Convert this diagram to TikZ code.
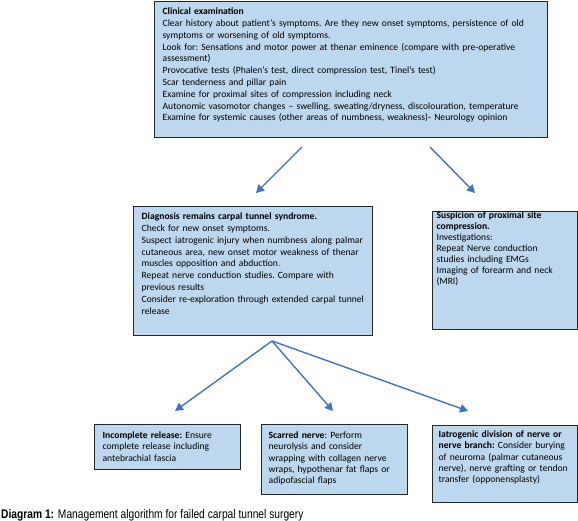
\documentclass[tikz,border=0pt]{standalone}
\usepackage{fontspec}
\setmainfont{Carlito}
\newfontfamily\capfont[FakeStretch=0.82]{Liberation Sans}
\usepackage{tikz}
\usetikzlibrary{arrows.meta}
\definecolor{boxfill}{HTML}{BDD7EE}
\definecolor{boxline}{HTML}{262626}
\definecolor{arrblue}{HTML}{4472C4}
\tikzset{
	box/.style={draw=boxline,fill=boxfill,line width=1.3pt,anchor=north west,align=left,inner ysep=0pt,font={\fontsize{9.6}{#1}\selectfont\frenchspacing\hyphenpenalty 10000 }},
	arr/.style={draw=arrblue,line width=1.4pt,-{Triangle[length=8pt,width=8.5pt]}}
}

\begin{document}
\begin{tikzpicture}[x=1pt,y=-1pt]
						\useasboundingbox (0,0) rectangle (578,521);

						\node [box=11.8,inner xsep=8pt,text width=377pt,text height=13pt,text depth=123pt] (clin) at (154,1) {\textbf{Clinical examination}\\
						Clear history about patient’s symptoms. Are they new onset symptoms, persistence of old\\
						symptoms or worsening of old symptoms.\\
						Look for: Sensations and motor power at thenar eminence (compare with pre-operative\\
						assessment)\\
						Provocative tests (Phalen’s test, direct compression test, Tinel’s test)\\
						Scar tenderness and pillar pain\\
						Examine for proximal sites of compression including neck\\
						Autonomic vasomotor changes – swelling, sweating/dryness, discolouration, temperature\\
						Examine for systemic causes (other areas of numbness, weakness)- Neurology opinion};

						\node [box=11.8,inner xsep=8pt,text width=223pt,text height=13pt,text depth=116pt] (diag) at (133,206) {\textbf{Diagnosis remains carpal tunnel syndrome.}\\
						Check for new onset symptoms.\\
						Suspect iatrogenic injury when numbness along palmar\\
						cutaneous area, new onset motor weakness of thenar\\
						muscles opposition and abduction\textcolor{red}{.}\\
						Repeat nerve conduction studies. Compare with\\
						previous results\\
						Consider re-exploration through extended carpal tunnel\\
						release};

						\node [box=10.9,inner xsep=4pt,text width=137pt,text height=7pt,text depth=111pt] (prox) at (432,211) {\textbf{Suspicion of proximal site}\\
						\textbf{compression.}\\
						Investigations:\\
						Repeat Nerve conduction\\
						studies including EMGs\\
						Imaging of forearm and neck\\
						(MRI)};

						\node [box=11.2,inner xsep=8pt,text width=130pt,text height=14pt,text depth=31pt] (inc) at (94,424) {\textbf{Incomplete release:} Ensure\\
						complete release including\\
						antebrachial fascia};

						\node [box=11.2,inner xsep=7pt,text width=132pt,text height=14pt,text depth=56pt] (scar) at (261,424) {\textbf{Scarred nerve}: Perform\\
						neurolysis and consider\\
						wrapping with collagen nerve\\
						wraps, hypothenar fat flaps or\\
						adipofascial flaps};

						\node [box=11.2,inner xsep=6pt,text width=133pt,text height=12pt,text depth=65pt] (iatr) at (432,425) {\textbf{Iatrogenic division of nerve or}\\
						\textbf{nerve branch:} Consider burying\\
						of neuroma (palmar cutaneous\\
						nerve), nerve grafting or tendon\\
						transfer (opponensplasty)};

						\node [anchor=base west,inner sep=0pt,font=\capfont\fontsize{12.5}{14}\selectfont] (cap) at (1,518) {\textbf{Diagram 1:} Management algorithm for failed carpal tunnel surgery};

						\coordinate (clinL) at (302,147);
						\coordinate (diagT) at (256,193);
						\coordinate (clinR) at (430,147);
						\coordinate (proxT) at (475,193);
						\coordinate (fan) at (272,341);
						\coordinate (incT) at (175,411);
						\coordinate (scarT) at (333,411);
						\coordinate (iatrT) at (468,411);

						\draw [arr] (clinL) -- (diagT);
						\draw [arr] (clinR) -- (proxT);
						\draw [arr] (fan) -- (incT);
						\draw [arr] (fan) -- (scarT);
						\draw [arr] (fan) -- (iatrT);
					\end{tikzpicture}
\end{document}
